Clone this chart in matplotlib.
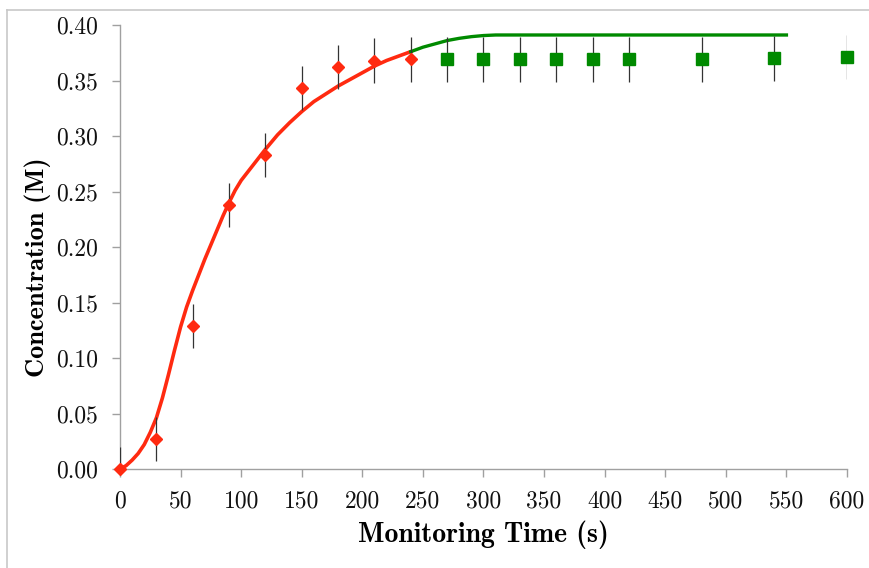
import matplotlib
matplotlib.use('Agg')
import matplotlib.pyplot as plt
from matplotlib.lines import Line2D

# измеренные точки (красные ромбы)
t_early = [0, 30, 60, 90, 120, 150, 180, 210, 240]
c_early = [0.000, 0.027, 0.129, 0.238, 0.283, 0.343, 0.362, 0.368, 0.369]

# измеренные точки (зелёные квадраты)
t_late = [270, 300, 330, 360, 390, 420, 480, 540, 600]
c_late = [0.369, 0.369, 0.369, 0.369, 0.369, 0.369, 0.369, 0.370, 0.371]

err = 0.02

# кривая модели
fit_t_red = [0, 5, 10, 15, 20, 25, 30, 35, 40, 45, 50, 55, 60, 65, 70, 75, 80, 85, 90, 95,
             100, 110, 120, 130, 140, 150, 160, 170, 180, 190, 200, 210, 220, 230, 240]
fit_c_red = [0.000, 0.003, 0.008, 0.014, 0.022, 0.033, 0.046, 0.064, 0.085, 0.107,
             0.128, 0.146, 0.161, 0.175, 0.189, 0.202, 0.215, 0.228, 0.240, 0.251,
             0.260, 0.274, 0.288, 0.301, 0.312, 0.322, 0.331, 0.338, 0.345, 0.351,
             0.357, 0.363, 0.368, 0.372, 0.376]
fit_t_green = [240, 250, 260, 270, 280, 290, 300, 310, 550]
fit_c_green = [0.376, 0.380, 0.383, 0.386, 0.388, 0.3895, 0.3905, 0.391, 0.391]

xticks = list(range(0, 601, 50))
yticks = [0.0, 0.05, 0.10, 0.15, 0.20, 0.25, 0.30, 0.35, 0.40]

RED = '#ff2a10'
GREEN = '#008a00'
GREY = '#a0a0a0'


def main():
    plt.rcParams['font.family'] = ['cmr10', 'DejaVu Serif']
    plt.rcParams['axes.formatter.use_mathtext'] = True

    fig = plt.figure(figsize=(8.7, 5.68), dpi=100)
    ax = fig.add_axes([120 / 870, 1 - 469 / 568, 727 / 870, 444 / 568])

    ax.plot(fit_t_red, fit_c_red, color=RED, lw=2.6, zorder=2)
    ax.plot(fit_t_green, fit_c_green, color=GREEN, lw=2.4, zorder=2)

    ax.errorbar(t_early, c_early, yerr=err, fmt='none', ecolor='#333333', elinewidth=0.9, zorder=3)
    ax.errorbar(t_late, c_late, yerr=err, fmt='none', ecolor='#333333', elinewidth=0.9, zorder=3)
    ax.plot(t_early, c_early, 'D', color=RED, ms=6.3, mec=RED, zorder=4, clip_on=False)
    ax.plot(t_late, c_late, 's', color=GREEN, ms=8.5, mec=GREEN, zorder=4, clip_on=False)

    ax.set_xlim(0, 600)
    ax.set_ylim(0, 0.40)
    ax.set_xticks(xticks)
    ax.set_yticks(yticks)
    ax.set_xticklabels([str(v) for v in xticks])
    ax.set_yticklabels(['%.2f' % v for v in yticks])

    for s in ['top', 'right']:
        ax.spines[s].set_visible(False)
    for s in ['left', 'bottom']:
        ax.spines[s].set_color(GREY)
        ax.spines[s].set_linewidth(1.0)
    ax.tick_params(direction='out', length=5.5, width=1.0, color=GREY,
                   labelsize=17, labelcolor='#111111')
    ax.tick_params(axis='x', pad=10)
    ax.tick_params(axis='y', pad=10)

    ax.set_xlabel('Monitoring Time (s)', fontsize=20, family='cmb10', labelpad=6)
    ax.set_ylabel('Concentration (M)', fontsize=19, family='cmb10')
    ax.yaxis.set_label_coords(-69 / 727, 0.455)

    # рамка скриншота
    fig.add_artist(Line2D([7 / 870, 1], [1 - 10 / 568, 1 - 10 / 568], color='#c8c8c8', lw=1.2))
    fig.add_artist(Line2D([7 / 870, 7 / 870], [0, 1 - 10 / 568], color='#c8c8c8', lw=1.2))

    fig.savefig('out.png', dpi=100)


if __name__ == '__main__':
    main()
